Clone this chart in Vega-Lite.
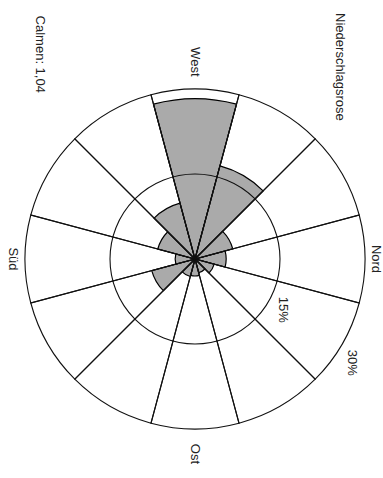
{
  "$schema": "https://vega.github.io/schema/vega-lite/v6.json",
  "width": 376,
  "height": 438,
  "padding": {"left": 7, "top": 40, "right": 0, "bottom": 0},
  "autosize": {"type": "none"},
  "background": "white",
  "config": {"view": {"stroke": null}},
  "datasets": {
    "rose": [
      {"richtung": "N", "von": -15, "bis": 15, "anteil": 5.5},
      {"richtung": "30", "von": 15, "bis": 45, "anteil": 3.5},
      {"richtung": "60", "von": 45, "bis": 75, "anteil": 2.5},
      {"richtung": "O", "von": 75, "bis": 105, "anteil": 3.0},
      {"richtung": "120", "von": 105, "bis": 135, "anteil": 3.2},
      {"richtung": "150", "von": 135, "bis": 165, "anteil": 7.9},
      {"richtung": "S", "von": 165, "bis": 195, "anteil": 3.5},
      {"richtung": "210", "von": 195, "bis": 225, "anteil": 6.8},
      {"richtung": "240", "von": 225, "bis": 255, "anteil": 10.2},
      {"richtung": "W", "von": 255, "bis": 285, "anteil": 28.3},
      {"richtung": "300", "von": 285, "bis": 315, "anteil": 17.0},
      {"richtung": "330", "von": 315, "bis": 345, "anteil": 6.9}
    ],
    "ringe": [{"r": 15}],
    "beschriftung": [
      {"text": "West", "winkel": 270, "abstand": 34.8},
      {"text": "Nord", "winkel": 0, "abstand": 31.9},
      {"text": "Ost", "winkel": 90, "abstand": 34.4},
      {"text": "Süd", "winkel": 180, "abstand": 32.1},
      {"text": "15%", "winkel": 30, "abstand": 17.9},
      {"text": "30%", "winkel": 33.5, "abstand": 33.2},
      {"text": "Niederschlagsrose", "winkel": 307.1, "abstand": 42.5},
      {"text": "Calmen: 1,04", "winkel": 232.9, "abstand": 45.3}
    ]
  },
  "layer": [
    {
      "data": {"name": "rose"},
      "mark": {"type": "arc", "fill": "#aaaaaa", "stroke": "black", "strokeWidth": 1.2},
      "encoding": {
        "theta": {"field": "von", "type": "quantitative", "scale": {"domain": [0, 360], "range": [1.5707963, 7.8539816]}},
        "theta2": {"field": "bis"},
        "radius": {"field": "anteil", "type": "quantitative", "scale": {"type": "linear", "domain": [0, 30], "range": [0, 170], "zero": true, "nice": false}}
      }
    },
    {
      "data": {"name": "rose"},
      "mark": {"type": "arc", "filled": false, "stroke": "#111111", "strokeWidth": 1.1},
      "encoding": {
        "theta": {"field": "von", "type": "quantitative", "scale": {"domain": [0, 360], "range": [1.5707963, 7.8539816]}},
        "theta2": {"field": "bis"},
        "radius": {"datum": 30, "type": "quantitative", "scale": {"type": "linear", "domain": [0, 30], "range": [0, 170], "zero": true, "nice": false}}
      }
    },
    {
      "data": {"name": "ringe"},
      "mark": {"type": "arc", "filled": false, "stroke": "#111111", "strokeWidth": 1.1},
      "encoding": {
        "theta": {"datum": 0, "type": "quantitative", "scale": {"domain": [0, 360], "range": [1.5707963, 7.8539816]}},
        "theta2": {"datum": 360},
        "radius": {"field": "r", "type": "quantitative", "scale": {"type": "linear", "domain": [0, 30], "range": [0, 170], "zero": true, "nice": false}},
        "radius2": {"field": "r"}
      }
    },
    {
      "data": {"name": "beschriftung"},
      "mark": {"type": "text", "angle": 90, "align": "center", "baseline": "middle", "font": "Liberation Sans", "fontSize": 13, "color": "#222222"},
      "encoding": {
        "theta": {"field": "winkel", "type": "quantitative", "scale": {"domain": [0, 360], "range": [1.5707963, 7.8539816]}},
        "radius": {"field": "abstand", "type": "quantitative", "scale": {"type": "linear", "domain": [0, 30], "range": [0, 170], "zero": true, "nice": false}},
        "text": {"field": "text", "type": "nominal"}
      }
    }
  ]
}
